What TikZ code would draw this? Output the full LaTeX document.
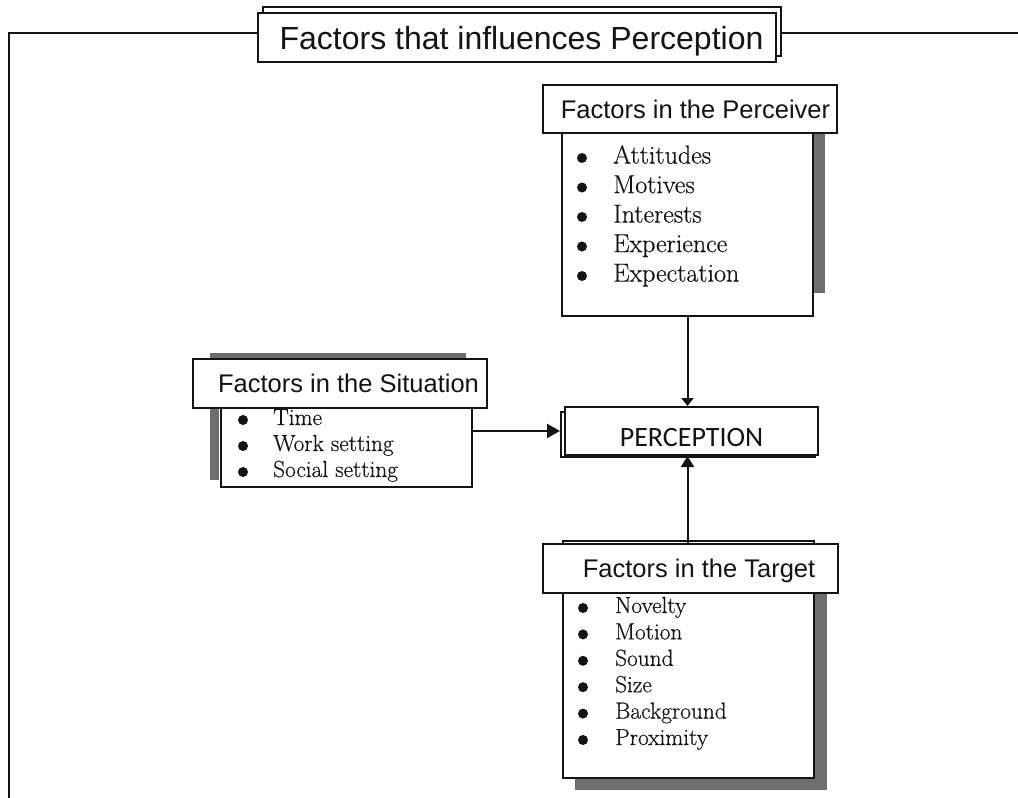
\documentclass[tikz,border=0pt]{standalone}
\usepackage{fontspec}
\newfontfamily\headfont{Liberation Sans}
\newfontfamily\percfont{Carlito}
\newfontfamily\listfont[FakeBold=0.5]{Latin Modern Roman}
\usetikzlibrary{arrows.meta}
\definecolor{shade}{HTML}{6E6E6E}
\definecolor{ink}{HTML}{141414}
\begin{document}
\begin{tikzpicture}[x=1pt,y=-1pt,
  box/.style={draw=ink, line width=2pt, fill=white, inner sep=0pt},
  headbox/.style={box, text=ink, text depth=0pt, font=\headfont\fontsize{25.5}{30}\selectfont},
  titlebox/.style={box, text=ink, text depth=0pt, font=\headfont\fontsize{32}{38}\selectfont},
  frame/.style={draw=ink, line width=2.6pt},
  shadow/.style={fill=shade, draw=none},
  dot/.style={circle, fill=ink, draw=none, inner sep=0pt, minimum size=10pt},
  bigitem/.style={anchor=base west, inner sep=0pt, text=ink, font=\listfont\fontsize{26}{30}\selectfont},
  smallitem/.style={anchor=base west, inner sep=0pt, text=ink, font=\listfont\fontsize{23.3}{27}\selectfont},
  link/.style={draw=ink, line width=2pt, -{Triangle[length=13pt,width=14pt]}},
  vlink/.style={draw=ink, line width=2pt, -{Triangle[length=8pt,width=12pt]}},
  uplink/.style={draw=ink, line width=2pt, -{Triangle[length=11pt,width=13pt]}},
]
\useasboundingbox (0,0) rectangle (1018,798);

% ---- title with its offset back panel ----
\node[titlebox, minimum width=518pt, minimum height=49pt] (titleb) at (522,31.5) {};
\node[titlebox, minimum width=518pt, minimum height=49pt] (title) at (517,37.5)
  {\hspace*{9pt}Factors that influences Perception};

% ---- outer frame ----
\coordinate (fbl) at (9,798);
\coordinate (ftr) at (1018,33);
\draw[frame] (fbl) |- (title.west |- ftr);
\draw[frame] (titleb.east |- ftr) -- (ftr);

% ---- factors in the perceiver ----
\fill[shadow] (813,133) rectangle (825,293);
\node[box, minimum width=251pt, minimum height=183pt] (pbody) at (687.5,224.5) {};
\node[headbox, minimum width=294pt, minimum height=48pt] (phead) at (690,109)
  {\hspace*{11pt}Factors in the Perceiver};
\foreach \t [count=\i] in {Attitudes,Motives,Interests,Experience,Expectation} {
  \node[dot] (pd\i) at (582,{158+29.5*(\i-1)}) {};
  \node[bigitem] (pi\i) at (613,{163.6+29.5*(\i-1)}) {\t};
}

% ---- perception ----
\node[box, minimum width=254pt, minimum height=45pt] (percb) at (688,434.5) {};
\node[box, minimum width=253pt, minimum height=48pt, text=ink,
      text height=31pt, text depth=0pt,
      font=\percfont\fontsize{28}{32}\selectfont] (perc) at (691.5,431) {PERCEPTION};

% ---- factors in the situation ----
\fill[shadow] (210,353) rectangle (466,359);
\fill[shadow] (210,408) rectangle (219,480);
\node[box, minimum width=251pt, minimum height=79pt] (sbody) at (346.5,447.5) {};
\node[headbox, minimum width=294pt, minimum height=49pt] (shead) at (340,383.5)
  {\hspace*{17pt}Factors in the Situation};
\foreach \t [count=\i] in {Time,Work setting,Social setting} {
  \node[dot] (sd\i) at (243,{420+26*(\i-1)}) {};
  \node[smallitem] (si\i) at (273,{425+26*(\i-1)}) {\t};
}

% ---- factors in the target ----
\fill[shadow] (814,593) rectangle (827,790);
\fill[shadow] (575,778) rectangle (827,790);
\node[box, minimum width=251pt, minimum height=237pt] (tbody) at (688.5,659.5) {};
\node[headbox, minimum width=295pt, minimum height=49pt] (thead) at (690.5,568.5)
  {\hspace*{17pt}Factors in the Target};
\foreach \t [count=\i] in {Novelty,Motion,Sound,Size,Background,Proximity} {
  \node[dot] (td\i) at (583,{608+26.4*(\i-1)}) {};
  \node[smallitem] (ti\i) at (615,{613+26.4*(\i-1)}) {\t};
}

% ---- connectors ----
\draw[vlink] (pbody.south) -- (pbody.south |- perc.north);
\draw[link] (sbody.east |- perc.west) -- (percb.west |- perc.west);
\draw[uplink] (thead.north -| pbody.south) -- (perc.south -| pbody.south);
\end{tikzpicture}
\end{document}
